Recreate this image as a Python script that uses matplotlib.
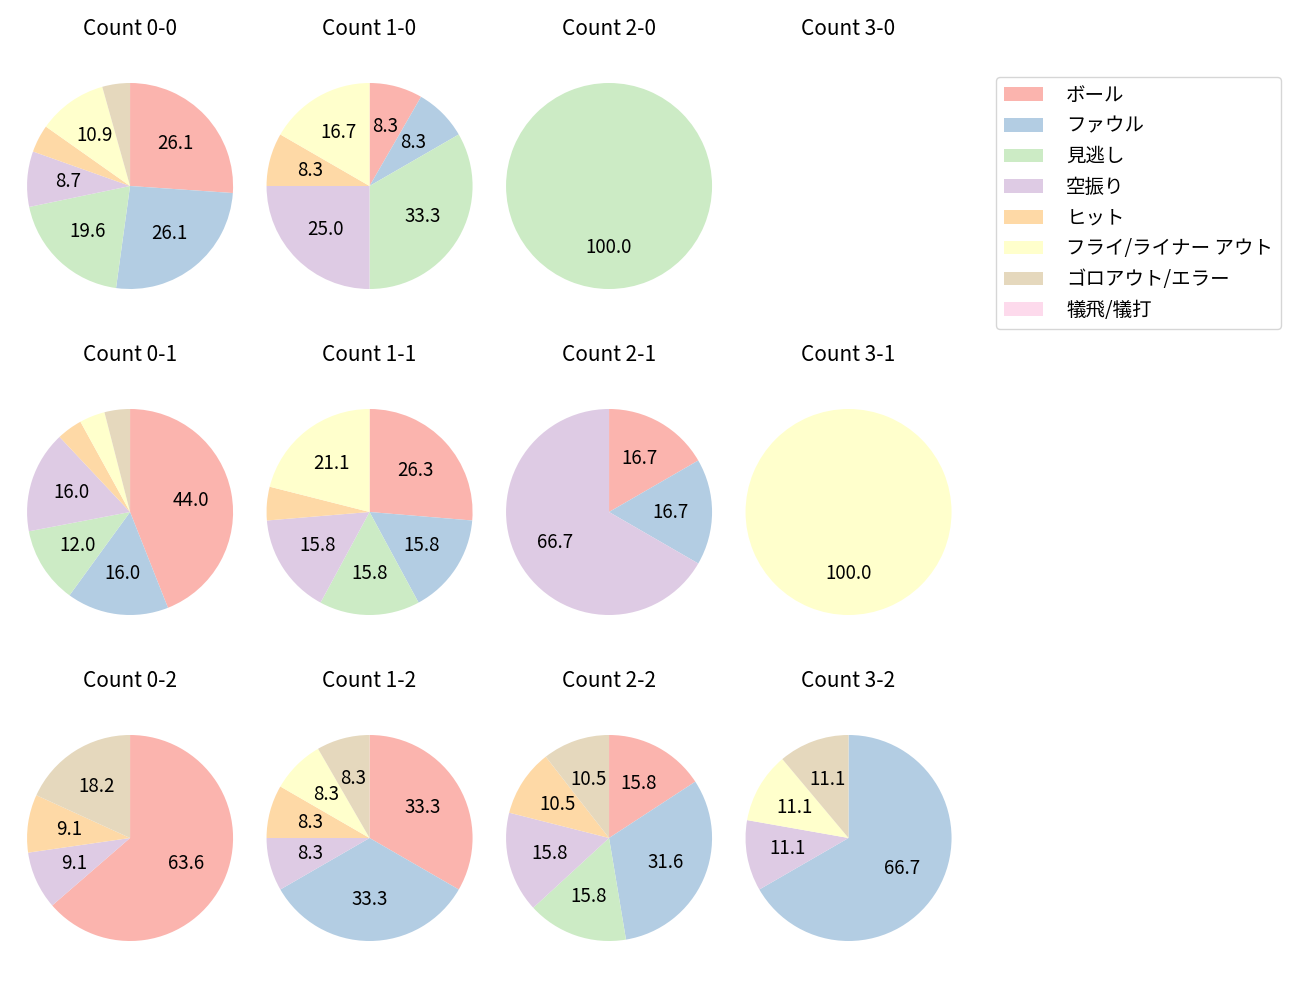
import matplotlib
matplotlib.use("Agg")
import matplotlib.pyplot as plt
from matplotlib.patches import Patch

plt.rcParams['font.family'] = ['Noto Sans CJK JP', 'DejaVu Sans']

categories = ["ボール", "ファウル", "見逃し", "空振り", "ヒット",
              "フライ/ライナー アウト", "ゴロアウト/エラー", "犠飛/犠打"]
colors = plt.get_cmap("Pastel1").colors[:8]

# pitch counts per category, for each ball-strike count
count_0_0 = [12, 12, 9, 4, 2, 5, 2, 0]
count_1_0 = [1, 1, 4, 3, 1, 2, 0, 0]
count_2_0 = [0, 0, 1, 0, 0, 0, 0, 0]
count_3_0 = [0, 0, 0, 0, 0, 0, 0, 0]
count_0_1 = [11, 4, 3, 4, 1, 1, 1, 0]
count_1_1 = [5, 3, 3, 3, 1, 4, 0, 0]
count_2_1 = [1, 1, 0, 4, 0, 0, 0, 0]
count_3_1 = [0, 0, 0, 0, 0, 1, 0, 0]
count_0_2 = [7, 0, 0, 1, 1, 0, 2, 0]
count_1_2 = [4, 4, 0, 1, 1, 1, 1, 0]
count_2_2 = [3, 6, 3, 3, 2, 0, 2, 0]
count_3_2 = [0, 6, 0, 1, 0, 1, 1, 0]

grid = [
    [("Count 0-0", count_0_0), ("Count 1-0", count_1_0), ("Count 2-0", count_2_0), ("Count 3-0", count_3_0)],
    [("Count 0-1", count_0_1), ("Count 1-1", count_1_1), ("Count 2-1", count_2_1), ("Count 3-1", count_3_1)],
    [("Count 0-2", count_0_2), ("Count 1-2", count_1_2), ("Count 2-2", count_2_2), ("Count 3-2", count_3_2)],
]

fig, axes = plt.subplots(3, 5, figsize=(13, 10))
fig.subplots_adjust(left=0.001, right=0.936, top=0.94275, bottom=0.03325,
                    wspace=-0.07, hspace=0.266)


def autopct(p):
    return f"{p:.1f}" if p >= 7 else ""


for r, row in enumerate(grid):
    for c, (title, values) in enumerate(row):
        ax = axes[r][c]
        ax.set_title(title, fontsize=15, pad=16)
        if sum(values) == 0:
            ax.axis("off")
            continue
        vals = [v for v in values if v > 0]
        cols = [colors[i] for i, v in enumerate(values) if v > 0]
        ax.pie(vals, colors=cols, startangle=90, counterclock=False,
               autopct=autopct, textprops={"fontsize": 13.5})
    axes[r][4].axis("off")

handles = [Patch(facecolor=col, label=lab) for col, lab in zip(colors, categories)]
fig.legend(handles=handles, loc="upper right", bbox_to_anchor=(1281 / 1300, 1 - 77 / 1000),
           borderaxespad=0, fontsize=14, handletextpad=1.2)

fig.savefig("out.png", dpi=100)
